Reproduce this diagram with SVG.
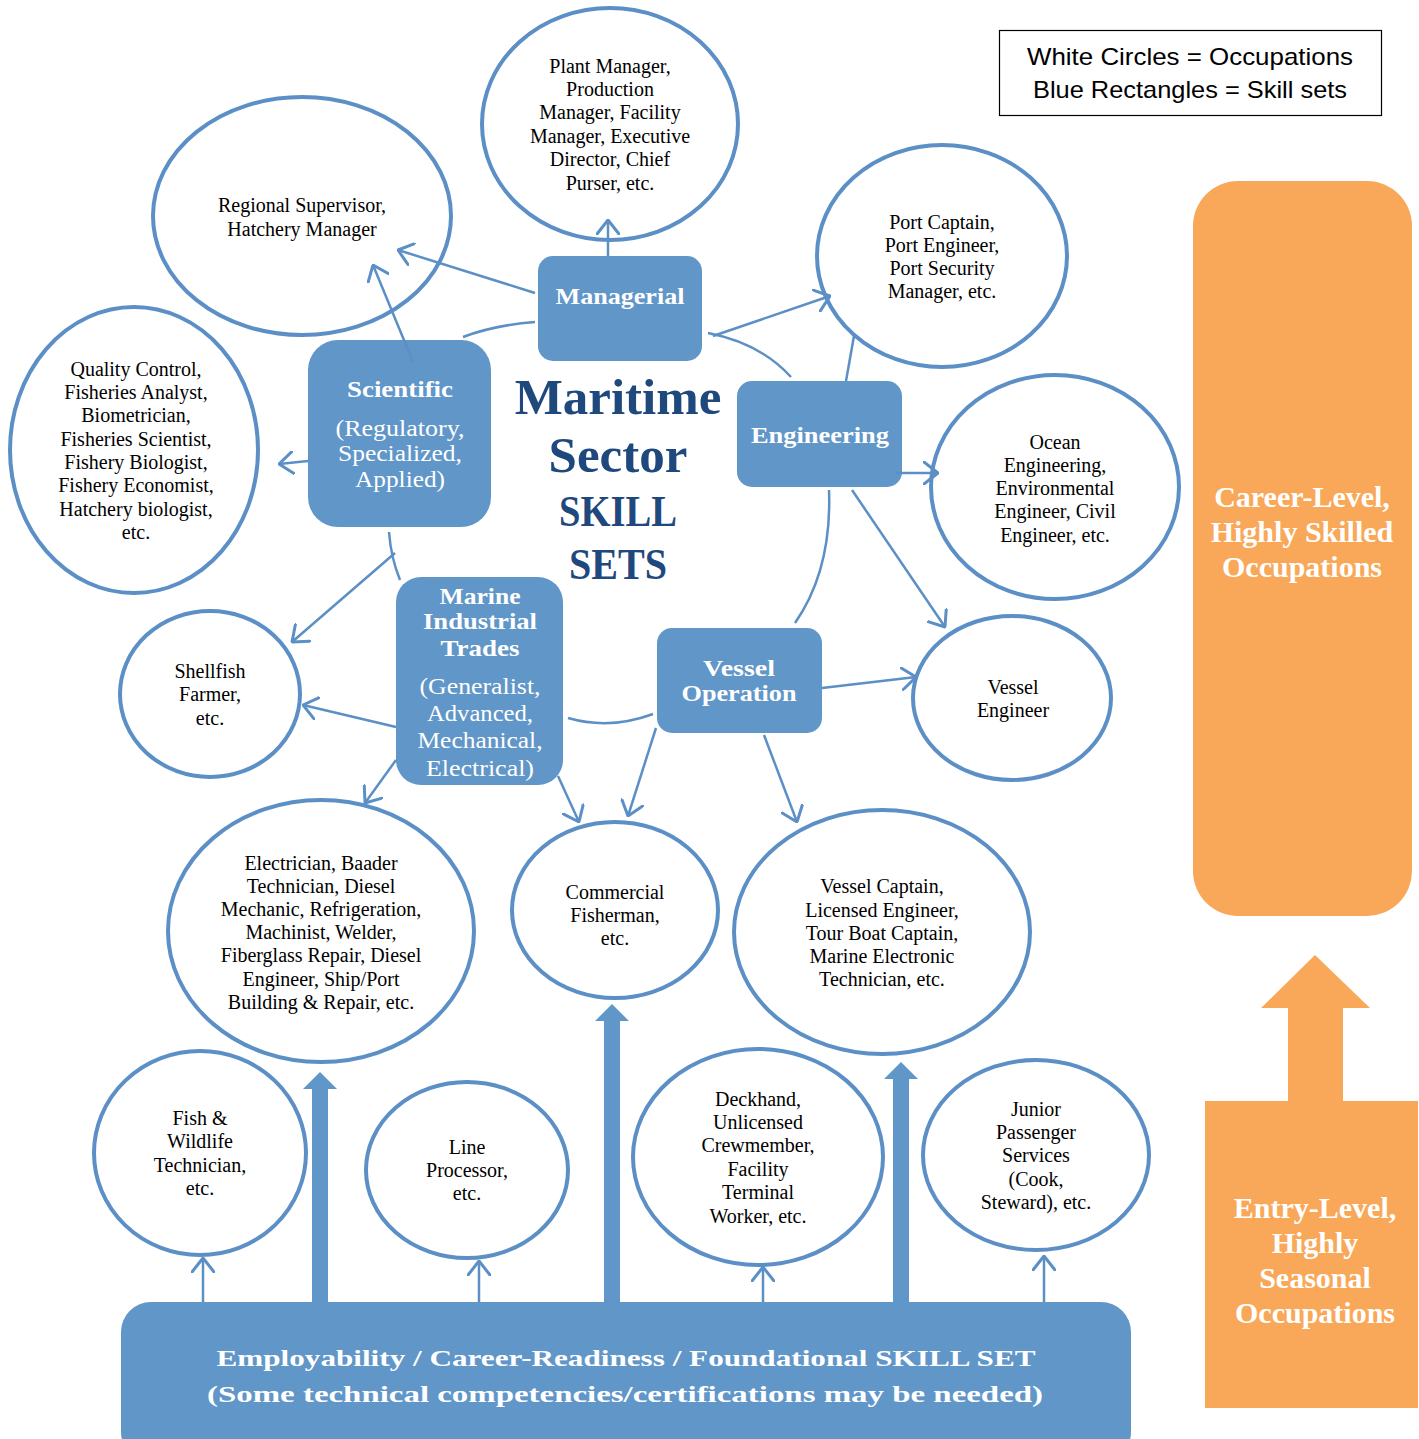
<svg xmlns="http://www.w3.org/2000/svg" width="1419" height="1439" viewBox="0 0 1419 1439">
<defs>
<style>
.occ{fill:#ffffff;stroke:#5b8fc6;stroke-width:4}
.occ-t{font-family:"Liberation Serif",serif;font-size:20px;fill:#000000;text-anchor:middle}
.sk{fill:#6196c8;stroke:none}
.sk-b{font-family:"Liberation Serif",serif;font-size:24px;font-weight:bold;fill:#ffffff;text-anchor:middle}
.sk-r{font-family:"Liberation Serif",serif;font-size:24px;fill:#ffffff;text-anchor:middle}
.title{font-family:"Liberation Serif",serif;font-weight:bold;fill:#1f497d;text-anchor:middle}
.or{fill:#f8a858}
.or-t{font-family:"Liberation Serif",serif;font-size:30px;font-weight:bold;fill:#ffffff;text-anchor:middle}
.con{fill:none;stroke:#5b8fc6;stroke-width:2.5}
.thick{fill:#6196c8}
</style>
<marker id="ah" viewBox="0 0 16 24" refX="15" refY="12" markerWidth="16" markerHeight="24" markerUnits="userSpaceOnUse" orient="auto">
<path d="M1,1 L15,12 L1,23" fill="none" stroke="#5b8fc6" stroke-width="3" stroke-linecap="round" stroke-linejoin="round"/>
</marker>
</defs>
<rect width="1419" height="1439" fill="#ffffff"/>

<!-- legend -->
<g id="legend">
<rect x="999.5" y="30.5" width="382" height="85" fill="#ffffff" stroke="#000000" stroke-width="1.2"/>
<text x="1190" y="65" font-family="Liberation Sans, sans-serif" font-size="24" text-anchor="middle" textLength="326" lengthAdjust="spacingAndGlyphs">White Circles = Occupations</text>
<text x="1190" y="98" font-family="Liberation Sans, sans-serif" font-size="24" text-anchor="middle" textLength="314" lengthAdjust="spacingAndGlyphs">Blue Rectangles = Skill sets</text>
</g>

<!-- orange levels -->
<g id="career-level">
<rect class="or" x="1193" y="181" width="219" height="735" rx="45"/>
<text class="or-t" x="1302" y="507">Career-Level,</text>
<text class="or-t" x="1302" y="542">Highly Skilled</text>
<text class="or-t" x="1302" y="577">Occupations</text>
</g>
<g id="entry-level">
<polygon class="or" points="1315,955 1370,1008 1343,1008 1343,1101 1418,1101 1418,1408 1205,1408 1205,1101 1288,1101 1288,1008 1261,1008"/>
<text class="or-t" x="1315" y="1218">Entry-Level,</text>
<text class="or-t" x="1315" y="1253">Highly</text>
<text class="or-t" x="1315" y="1288">Seasonal</text>
<text class="or-t" x="1315" y="1323">Occupations</text>
</g>

<!-- occupations -->
<g id="plant-manager">
<ellipse class="occ" cx="610" cy="124" rx="128" ry="116"/>
<text class="occ-t" x="610" y="73">Plant Manager,</text>
<text class="occ-t" x="610" y="96">Production</text>
<text class="occ-t" x="610" y="119">Manager, Facility</text>
<text class="occ-t" x="610" y="143">Manager, Executive</text>
<text class="occ-t" x="610" y="166">Director, Chief</text>
<text class="occ-t" x="610" y="190">Purser, etc.</text>
</g>
<g id="regional-supervisor">
<ellipse class="occ" cx="302" cy="216" rx="149" ry="119"/>
<text class="occ-t" x="302" y="212">Regional Supervisor,</text>
<text class="occ-t" x="302" y="236">Hatchery Manager</text>
</g>
<g id="quality-control">
<ellipse class="occ" cx="134" cy="450" rx="124" ry="143"/>
<text class="occ-t" x="136" y="376">Quality Control,</text>
<text class="occ-t" x="136" y="399">Fisheries Analyst,</text>
<text class="occ-t" x="136" y="422">Biometrician,</text>
<text class="occ-t" x="136" y="446">Fisheries Scientist,</text>
<text class="occ-t" x="136" y="469">Fishery Biologist,</text>
<text class="occ-t" x="136" y="492">Fishery Economist,</text>
<text class="occ-t" x="136" y="516">Hatchery biologist,</text>
<text class="occ-t" x="136" y="539">etc.</text>
</g>
<g id="port-captain">
<ellipse class="occ" cx="942" cy="256" rx="125" ry="111"/>
<text class="occ-t" x="942" y="229">Port Captain,</text>
<text class="occ-t" x="942" y="252">Port Engineer,</text>
<text class="occ-t" x="942" y="275">Port Security</text>
<text class="occ-t" x="942" y="298">Manager, etc.</text>
</g>
<g id="ocean-engineering">
<ellipse class="occ" cx="1055" cy="487" rx="124" ry="112"/>
<text class="occ-t" x="1055" y="449">Ocean</text>
<text class="occ-t" x="1055" y="472">Engineering,</text>
<text class="occ-t" x="1055" y="495">Environmental</text>
<text class="occ-t" x="1055" y="518">Engineer, Civil</text>
<text class="occ-t" x="1055" y="542">Engineer, etc.</text>
</g>
<g id="vessel-engineer">
<ellipse class="occ" cx="1012" cy="698" rx="99" ry="82"/>
<text class="occ-t" x="1013" y="694">Vessel</text>
<text class="occ-t" x="1013" y="717">Engineer</text>
</g>
<g id="shellfish-farmer">
<ellipse class="occ" cx="210" cy="694" rx="90" ry="83"/>
<text class="occ-t" x="210" y="678">Shellfish</text>
<text class="occ-t" x="210" y="701">Farmer,</text>
<text class="occ-t" x="210" y="725">etc.</text>
</g>
<g id="electrician">
<ellipse class="occ" cx="321" cy="931" rx="153" ry="131"/>
<text class="occ-t" x="321" y="870">Electrician, Baader</text>
<text class="occ-t" x="321" y="893">Technician, Diesel</text>
<text class="occ-t" x="321" y="916">Mechanic, Refrigeration,</text>
<text class="occ-t" x="321" y="939">Machinist, Welder,</text>
<text class="occ-t" x="321" y="962">Fiberglass Repair, Diesel</text>
<text class="occ-t" x="321" y="986">Engineer, Ship/Port</text>
<text class="occ-t" x="321" y="1009">Building &amp; Repair, etc.</text>
</g>
<g id="commercial-fisherman">
<ellipse class="occ" cx="615" cy="910" rx="103" ry="88"/>
<text class="occ-t" x="615" y="899">Commercial</text>
<text class="occ-t" x="615" y="922">Fisherman,</text>
<text class="occ-t" x="615" y="945">etc.</text>
</g>
<g id="vessel-captain">
<ellipse class="occ" cx="882" cy="932" rx="148" ry="122"/>
<text class="occ-t" x="882" y="893">Vessel Captain,</text>
<text class="occ-t" x="882" y="917">Licensed Engineer,</text>
<text class="occ-t" x="882" y="940">Tour Boat Captain,</text>
<text class="occ-t" x="882" y="963">Marine Electronic</text>
<text class="occ-t" x="882" y="986">Technician, etc.</text>
</g>
<g id="fish-wildlife">
<ellipse class="occ" cx="200" cy="1153" rx="106" ry="102"/>
<text class="occ-t" x="200" y="1125">Fish &amp;</text>
<text class="occ-t" x="200" y="1148">Wildlife</text>
<text class="occ-t" x="200" y="1172">Technician,</text>
<text class="occ-t" x="200" y="1195">etc.</text>
</g>
<g id="line-processor">
<ellipse class="occ" cx="467" cy="1170" rx="101" ry="88"/>
<text class="occ-t" x="467" y="1154">Line</text>
<text class="occ-t" x="467" y="1177">Processor,</text>
<text class="occ-t" x="467" y="1200">etc.</text>
</g>
<g id="deckhand">
<ellipse class="occ" cx="758" cy="1157" rx="125" ry="108"/>
<text class="occ-t" x="758" y="1106">Deckhand,</text>
<text class="occ-t" x="758" y="1129">Unlicensed</text>
<text class="occ-t" x="758" y="1152">Crewmember,</text>
<text class="occ-t" x="758" y="1176">Facility</text>
<text class="occ-t" x="758" y="1199">Terminal</text>
<text class="occ-t" x="758" y="1223">Worker, etc.</text>
</g>
<g id="junior-passenger">
<ellipse class="occ" cx="1036" cy="1155" rx="113" ry="95"/>
<text class="occ-t" x="1036" y="1116">Junior</text>
<text class="occ-t" x="1036" y="1139">Passenger</text>
<text class="occ-t" x="1036" y="1162">Services</text>
<text class="occ-t" x="1036" y="1186">(Cook,</text>
<text class="occ-t" x="1036" y="1209">Steward), etc.</text>
</g>

<!-- skill sets -->
<g id="managerial">
<rect class="sk" x="538" y="256" width="164" height="105" rx="15"/>
<text class="sk-b" x="620" y="304" textLength="129" lengthAdjust="spacingAndGlyphs">Managerial</text>
</g>
<g id="scientific">
<rect class="sk" x="308" y="340" width="183" height="187" rx="30"/>
<text class="sk-b" x="400" y="397" textLength="106" lengthAdjust="spacingAndGlyphs">Scientific</text>
<text class="sk-r" x="400" y="436" textLength="129" lengthAdjust="spacingAndGlyphs">(Regulatory,</text>
<text class="sk-r" x="400" y="461" textLength="124" lengthAdjust="spacingAndGlyphs">Specialized,</text>
<text class="sk-r" x="400" y="487" textLength="90" lengthAdjust="spacingAndGlyphs">Applied)</text>
</g>
<g id="engineering">
<rect class="sk" x="737" y="381" width="165" height="106" rx="15"/>
<text class="sk-b" x="820" y="443" textLength="138" lengthAdjust="spacingAndGlyphs">Engineering</text>
</g>
<g id="marine-industrial-trades">
<rect class="sk" x="396" y="577" width="167" height="208" rx="25"/>
<text class="sk-b" x="480" y="604" textLength="81" lengthAdjust="spacingAndGlyphs">Marine</text>
<text class="sk-b" x="480" y="629" textLength="114" lengthAdjust="spacingAndGlyphs">Industrial</text>
<text class="sk-b" x="480" y="656" textLength="79" lengthAdjust="spacingAndGlyphs">Trades</text>
<text class="sk-r" x="480" y="694" textLength="121" lengthAdjust="spacingAndGlyphs">(Generalist,</text>
<text class="sk-r" x="480" y="721" textLength="106" lengthAdjust="spacingAndGlyphs">Advanced,</text>
<text class="sk-r" x="480" y="748" textLength="125" lengthAdjust="spacingAndGlyphs">Mechanical,</text>
<text class="sk-r" x="480" y="776" textLength="108" lengthAdjust="spacingAndGlyphs">Electrical)</text>
</g>
<g id="vessel-operation">
<rect class="sk" x="657" y="628" width="165" height="105" rx="15"/>
<text class="sk-b" x="739" y="676" textLength="72" lengthAdjust="spacingAndGlyphs">Vessel</text>
<text class="sk-b" x="739" y="701" textLength="115" lengthAdjust="spacingAndGlyphs">Operation</text>
</g>
<g id="foundational">
<rect class="sk" x="121" y="1302" width="1010" height="160" rx="30"/>
<text class="sk-b" x="626" y="1366" font-size="30" textLength="819" lengthAdjust="spacingAndGlyphs">Employability / Career-Readiness / Foundational SKILL SET</text>
<text class="sk-b" x="625" y="1402" font-size="30" textLength="836" lengthAdjust="spacingAndGlyphs">(Some technical competencies/certifications may be needed)</text>
</g>

<!-- title -->
<g id="title">
<text class="title" x="618" y="414" font-size="51">Maritime</text>
<text class="title" x="618" y="472" font-size="51">Sector</text>
<text class="title" x="618" y="526" font-size="45" textLength="118" lengthAdjust="spacingAndGlyphs">SKILL</text>
<text class="title" x="618" y="579" font-size="45" textLength="98" lengthAdjust="spacingAndGlyphs">SETS</text>
</g>

<!-- connectors -->
<g id="connectors">
<line class="con" x1="535" y1="293" x2="398" y2="250" marker-end="url(#ah)"/>
<line class="con" x1="413" y1="362" x2="373" y2="265" marker-end="url(#ah)"/>
<line class="con" x1="608" y1="256" x2="608" y2="220" marker-end="url(#ah)"/>
<line class="con" x1="713" y1="336" x2="830" y2="296" marker-end="url(#ah)"/>
<path class="con" d="M708,333 Q760,343 791,377"/>
<path class="con" d="M463,337 Q495,325 535,322"/>
<line class="con" x1="846" y1="381" x2="854" y2="336"/>
<line class="con" x1="895" y1="473" x2="938" y2="473" marker-end="url(#ah)"/>
<line class="con" x1="852" y1="490" x2="945" y2="627" marker-end="url(#ah)"/>
<path class="con" d="M829,490 Q832,570 795,623"/>
<line class="con" x1="308" y1="461" x2="279" y2="464" marker-end="url(#ah)"/>
<path class="con" d="M389,532 Q391,558 400,580"/>
<line class="con" x1="395" y1="553" x2="292" y2="642" marker-end="url(#ah)"/>
<line class="con" x1="396" y1="727" x2="303" y2="705" marker-end="url(#ah)"/>
<line class="con" x1="396" y1="760" x2="365" y2="803" marker-end="url(#ah)"/>
<line class="con" x1="558" y1="776" x2="579" y2="822" marker-end="url(#ah)"/>
<path class="con" d="M568,718 Q610,730 653,714"/>
<line class="con" x1="656" y1="728" x2="628" y2="816" marker-end="url(#ah)"/>
<line class="con" x1="764" y1="735" x2="797" y2="822" marker-end="url(#ah)"/>
<line class="con" x1="822" y1="688" x2="916" y2="677" marker-end="url(#ah)"/>
<line class="con" x1="203" y1="1302" x2="203" y2="1258" marker-end="url(#ah)"/>
<line class="con" x1="479" y1="1302" x2="479" y2="1261" marker-end="url(#ah)"/>
<line class="con" x1="763" y1="1302" x2="763" y2="1267" marker-end="url(#ah)"/>
<line class="con" x1="1044" y1="1302" x2="1044" y2="1256" marker-end="url(#ah)"/>
<polygon class="thick" points="320,1072 337,1089 328,1089 328,1303 312,1303 312,1089 303,1089"/>
<polygon class="thick" points="612,1004 629,1021 620,1021 620,1303 604,1303 604,1021 595,1021"/>
<polygon class="thick" points="901,1062 918,1079 909,1079 909,1303 893,1303 893,1079 884,1079"/>
</g>
</svg>
